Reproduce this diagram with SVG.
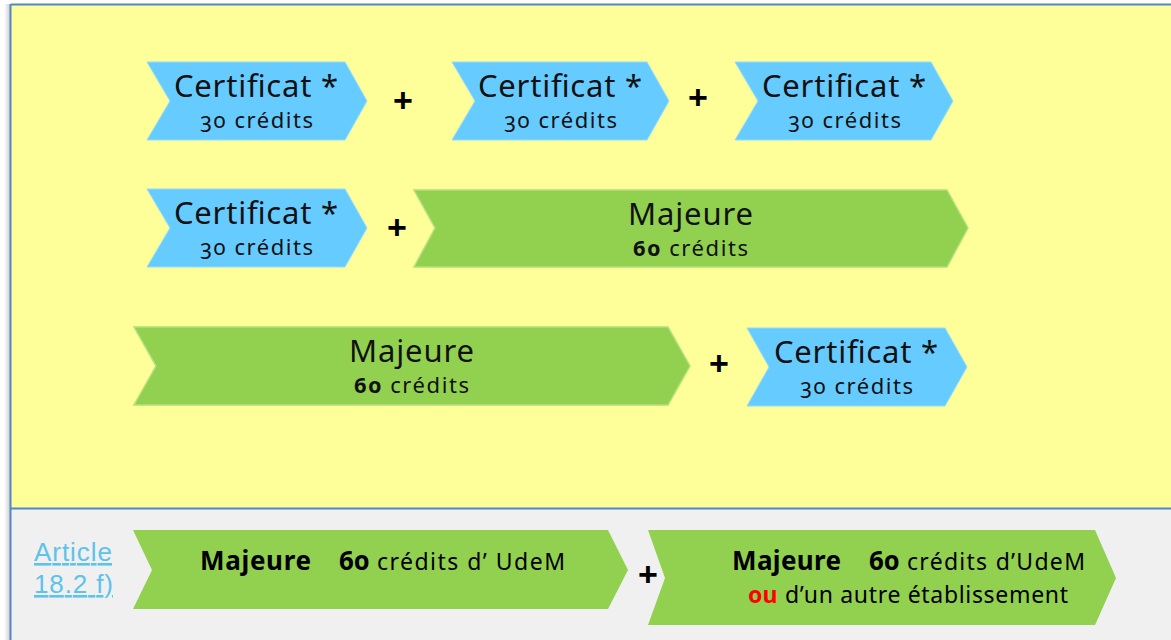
<svg xmlns="http://www.w3.org/2000/svg" width="1171" height="640" viewBox="0 0 1171 640">
<defs>
<linearGradient id="shadow" x1="0" x2="1" y1="0" y2="0">
<stop offset="0" stop-color="#ffffff"/>
<stop offset="1" stop-color="#c8c8c8"/>
</linearGradient>
</defs>
<style>
.cert{fill:#66CCFF;stroke:#8fdcff;stroke-width:1}
.maj{fill:#92D050;stroke:#b3e07c;stroke-width:1.5}
.majb{fill:#92D050}
.t1{font-family:"Noto Sans","Open Sans",sans-serif;font-size:31px;fill:#111}
.t2{font-family:"Noto Sans","Open Sans",sans-serif;font-size:22px;fill:#111;font-variant-numeric:oldstyle-nums}
.tb{font-family:"Noto Sans","Open Sans",sans-serif;font-size:23px;fill:#000;font-variant-numeric:oldstyle-nums}
.bb{font-weight:bold;font-size:26px}
.red{fill:#ff0000;font-weight:bold}
.plus{font-family:"Liberation Sans",Arial,sans-serif;font-size:34px;font-weight:bold;fill:#000;text-anchor:middle}
.link{font-family:"Liberation Sans",Arial,sans-serif;font-size:26px;fill:#5ec3ea;text-decoration:underline}
</style>
<rect x="0" y="0" width="1171" height="640" fill="#ffffff"/>
<rect x="4" y="4" width="7" height="636" fill="url(#shadow)"/>
<rect x="11" y="5" width="1160" height="503" fill="#FFFF99"/>
<rect x="11" y="509" width="1160" height="131" fill="#F0F0F0"/>
<line x1="11" y1="4.5" x2="1171" y2="4.5" stroke="#5585C5" stroke-width="2"/>
<line x1="10.5" y1="4" x2="10.5" y2="640" stroke="#5585C5" stroke-width="2"/>
<line x1="11" y1="508.5" x2="1171" y2="508.5" stroke="#5585C5" stroke-width="2"/>

<g id="connectors">
<text class="plus" x="403" y="112">+</text>
<text class="plus" x="698" y="109">+</text>
<text class="plus" x="397" y="239">+</text>
<text class="plus" x="719" y="375">+</text>
<text class="plus" x="648" y="586">+</text>
</g>

<g id="cert1">
<polygon class="cert" points="147,62 345,62 367,101 345,140 147,140 170,101"/>
<text class="t1" x="174" y="97" textLength="164" lengthAdjust="spacing">Certificat *</text>
<text class="t2" x="200" y="128" textLength="113" lengthAdjust="spacing">30 crédits</text>
</g>
<g id="cert2">
<polygon class="cert" points="452,62 647,62 669,101 647,140 452,140 475,101"/>
<text class="t1" x="478" y="97" textLength="164" lengthAdjust="spacing">Certificat *</text>
<text class="t2" x="504" y="128" textLength="113" lengthAdjust="spacing">30 crédits</text>
</g>
<g id="cert3">
<polygon class="cert" points="735,62 931,62 953,101 931,140 735,140 758,101"/>
<text class="t1" x="762" y="97" textLength="164" lengthAdjust="spacing">Certificat *</text>
<text class="t2" x="788" y="128" textLength="113" lengthAdjust="spacing">30 crédits</text>
</g>

<g id="cert4">
<polygon class="cert" points="147,189 345,189 367,228 345,267 147,267 170,228"/>
<text class="t1" x="174" y="224" textLength="164" lengthAdjust="spacing">Certificat *</text>
<text class="t2" x="200" y="255" textLength="113" lengthAdjust="spacing">30 crédits</text>
</g>
<g id="maj1">
<polygon class="maj" points="414,190 947,190 968,228 947,267 414,267 435,228"/>
<text class="t1" x="628" y="225" textLength="125" lengthAdjust="spacing">Majeure</text>
<text class="t2" x="633" y="256" textLength="115" lengthAdjust="spacing"><tspan font-weight="bold">60</tspan> crédits</text>
</g>

<g id="maj2">
<polygon class="maj" points="134,327 668,327 690,366 668,405 134,405 156,366"/>
<text class="t1" x="349" y="362" textLength="125" lengthAdjust="spacing">Majeure</text>
<text class="t2" x="354" y="393" textLength="115" lengthAdjust="spacing"><tspan font-weight="bold">60</tspan> crédits</text>
</g>
<g id="cert5">
<polygon class="cert" points="747,328 945,328 967,367 945,406 747,406 769,367"/>
<text class="t1" x="774" y="363" textLength="164" lengthAdjust="spacing">Certificat *</text>
<text class="t2" x="800" y="394" textLength="113" lengthAdjust="spacing">30 crédits</text>
</g>

<g id="article">
<text class="link" x="34" y="561" textLength="78" lengthAdjust="spacing">Article</text>
<text class="link" x="34" y="593" textLength="79" lengthAdjust="spacing">18.2 f)</text>
</g>

<g id="maj3">
<polygon class="majb" points="133,530 608,530 628,570 608,609 133,609 152,570"/>
<text class="tb bb" x="200" y="570" textLength="111" lengthAdjust="spacing">Majeure</text>
<text class="tb bb" x="339" y="570">60</text>
<text class="tb" x="377" y="570" textLength="188" lengthAdjust="spacing">crédits  d’ UdeM</text>
</g>
<g id="maj4">
<polygon class="majb" points="648,530 1095,530 1116,578 1095,625 648,625 665,578"/>
<text class="tb bb" x="732" y="570" textLength="109" lengthAdjust="spacing">Majeure</text>
<text class="tb bb" x="869" y="570">60</text>
<text class="tb" x="907" y="570" textLength="178" lengthAdjust="spacing">crédits  d’UdeM</text>
<text class="tb red" x="748" y="603">ou</text>
<text class="tb" x="785" y="603" textLength="283" lengthAdjust="spacing">d’un autre établissement</text>
</g>
</svg>
